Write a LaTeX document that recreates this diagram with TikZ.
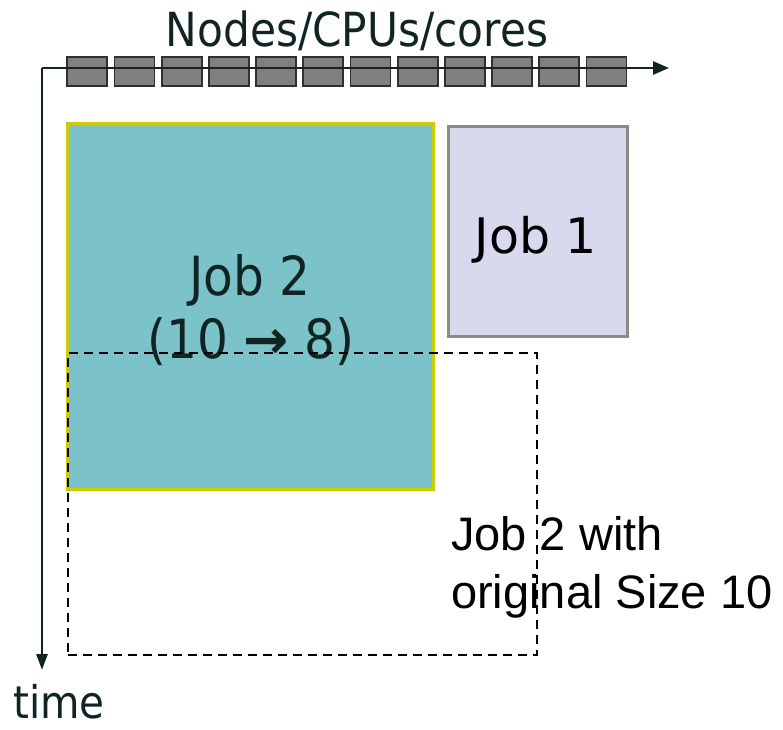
\documentclass[tikz,border=0pt]{standalone}
\usepackage{fontspec}
\setmainfont{DejaVu Sans}
\newfontfamily\tahfont{DejaVu Sans Condensed}
\newfontfamily\arialfont{Liberation Sans}
\newfontfamily\verdfont{DejaVu Sans}
\usetikzlibrary{arrows.meta}
\definecolor{axiscol}{HTML}{102424}
\definecolor{tealfill}{HTML}{7BC3C8}
\definecolor{yellowline}{HTML}{CCCC00}
\definecolor{lavfill}{HTML}{D9D9EE}
\definecolor{grayline}{HTML}{8A8A8A}
\definecolor{cellfill}{HTML}{808080}
\definecolor{cellline}{HTML}{303030}
\tikzset{
  cellbox/.style={draw=cellline, fill=cellfill, line width=1.8pt, minimum width=40pt, minimum height=29pt, inner sep=0pt, outer sep=0pt},
  axisline/.style={draw=axiscol, line width=2.8pt},
  tahtext/.style={text=axiscol, inner sep=0pt, font=\tahfont\fontsize{47}{56}\selectfont},
  jobtext/.style={text=axiscol, inner sep=0pt, font=\tahfont\fontsize{54}{63}\selectfont},
  plaintext/.style={text=black, inner sep=0pt, font=\arialfont\fontsize{47}{56}\selectfont},
}
\begin{document}
\begin{tikzpicture}[x=1pt,y=-1pt]
\useasboundingbox (0,0) rectangle (783,729);
% job boxes
\node[draw=yellowline, fill=tealfill, line width=3pt, minimum width=366pt, minimum height=366pt, inner sep=0pt] (job2) at (250.5,306.5) {};
\node[draw=grayline, fill=lavfill, line width=3pt, minimum width=179pt, minimum height=210pt, inner sep=0pt] (job1) at (537.7,231) {};
% cells
\foreach \i in {0,...,11} {
  \node[cellbox] (cell\i) at ({87.2+47.2*\i},71.3) {};
}
% axes
\coordinate (origin) at (42,68);
\coordinate (xend) at (669,68);
\coordinate (yend) at (42,670);
\draw[axisline, -{Triangle[length=16pt,width=13pt]}] (origin) -- (xend);
\draw[axisline, -{Triangle[length=16pt,width=11pt]}] (origin) -- (yend);
% texts
\node[tahtext, anchor=base] (title) at (357,46.7) {Nodes/CPUs/cores};
\node[tahtext, anchor=base west, font=\tahfont\fontsize{45}{54}\selectfont] (timelbl) at (13,718.5) {time};
\node[jobtext, anchor=base] (job2a) at (250,295) {Job 2};
\node[jobtext, anchor=base] (job2b) at (251,358) {(10 {\verdfont\bfseries →} 8)};
\node[text=black, inner sep=0pt, font=\verdfont\fontsize{49}{58}\selectfont, anchor=base] (job1t) at (536,253) {Job 1};
\node[plaintext, anchor=base west] (origa) at (451,550) {Job 2 with};
\node[plaintext, anchor=base west] (origb) at (451,608) {original Size 10};
% dashed original box
\node[draw=black, line width=2.4pt, dash pattern=on 9pt off 6pt, minimum width=469pt, minimum height=302pt, inner sep=0pt] (orig) at (302.2,504) {};
\end{tikzpicture}
\end{document}
